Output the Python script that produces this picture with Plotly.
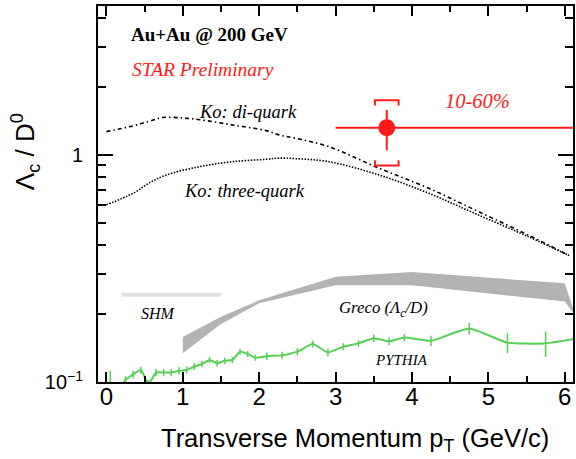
import plotly.graph_objects as go

# ---------------- data ----------------
# STAR measurement (10-60%)
star_x = [3.67]
star_y = [1.318]
star_xerr_plus = [2.44]
star_xerr_minus = [0.67]
star_stat = [0.26]
star_stat_minus = [0.27]
star_sys_hi = [1.74]
star_sys_lo = [0.898]

# Ko di-quark model
ko_di_x = [0.0, 0.345, 0.567, 0.737, 1.0, 1.22, 1.65, 2.09, 2.26, 2.48, 2.91, 3.57, 4.22, 4.87, 5.52, 6.09]
ko_di_y = [1.267, 1.342, 1.41, 1.462, 1.455, 1.43, 1.356, 1.28, 1.225, 1.184, 1.088, 0.874, 0.713, 0.563, 0.444, 0.356]

# Ko three-quark model
ko_tri_x = [0.0, 0.35, 0.567, 0.785, 1.22, 1.65, 2.09, 2.26, 2.48, 2.91, 3.57, 4.22, 4.87, 5.52, 6.04]
ko_tri_y = [0.603, 0.678, 0.755, 0.816, 0.888, 0.934, 0.957, 0.968, 0.963, 0.934, 0.816, 0.678, 0.544, 0.437, 0.363]

# Greco band
greco_x = [1.0, 1.5, 2.0, 3.0, 4.0, 6.0, 6.11]
greco_hi = [0.158, 0.194, 0.229, 0.291, 0.305, 0.272, 0.211]
greco_lo = [0.134, 0.180, 0.222, 0.267, 0.267, 0.226, 0.202]

# SHM
shm_x = [0.2, 1.5]
shm_y = [0.242, 0.242]

# PYTHIA
py_x = [0.05, 0.15, 0.25, 0.35, 0.45, 0.55, 0.65, 0.75, 0.85, 0.95, 1.05, 1.15, 1.25, 1.35, 1.45,
        1.55, 1.65, 1.75, 1.85, 1.95, 2.1, 2.3, 2.5, 2.7, 2.9, 3.1, 3.3, 3.5, 3.7, 3.9,
        4.25, 4.75, 5.25, 5.75, 6.25]
py_y = [0.077, 0.090, 0.102, 0.108, 0.113, 0.098, 0.110, 0.110, 0.110, 0.112, 0.113, 0.117, 0.120, 0.125, 0.121,
        0.124, 0.125, 0.136, 0.133, 0.128, 0.130, 0.131, 0.136, 0.147, 0.135, 0.143, 0.148, 0.156, 0.151, 0.157,
        0.152, 0.172, 0.149, 0.148, 0.157]
py_err = [0.035, 0.004, 0.004, 0.004, 0.004, 0.004, 0.004, 0.004, 0.004, 0.004, 0.004, 0.004, 0.004, 0.004, 0.004,
          0.004, 0.004, 0.004, 0.004, 0.004, 0.005, 0.005, 0.005, 0.005, 0.005, 0.005, 0.005, 0.006, 0.006, 0.006,
          0.008, 0.010, 0.015, 0.019, 0.020]

x_major = [0, 1, 2, 3, 4, 5, 6]
x_minor = [-0.5, 0.5, 1.5, 2.5, 3.5, 4.5, 5.5]
y_major = [0.1, 1]
y_major_text = ["10<sup>\u22121</sup>", "1"]
y_minor = [0.2, 0.3, 0.4, 0.5, 0.6, 0.7, 0.8, 0.9, 2, 3, 4]

# ---------------- figure ----------------
RED = "#ff1a1a"
GREEN = "#55d055"
fig = go.Figure()

# Greco band
fig.add_trace(go.Scatter(
    x=greco_x + greco_x[::-1], y=greco_hi + greco_lo[::-1],
    fill="toself", fillcolor="#b3b3b3", line=dict(width=0), mode="lines",
    hoverinfo="skip", showlegend=False))

# SHM
fig.add_trace(go.Scatter(x=shm_x, y=shm_y, mode="lines",
                         line=dict(color="#e0e0e0", width=4), showlegend=False))

# Ko curves
fig.add_trace(go.Scatter(x=ko_di_x, y=ko_di_y, mode="lines", line_shape="spline",
                         line=dict(color="black", width=1.6, dash="4px,3px,1.5px,3px"),
                         showlegend=False))
fig.add_trace(go.Scatter(x=ko_tri_x, y=ko_tri_y, mode="lines", line_shape="spline",
                         line=dict(color="black", width=1.6, dash="1.5px,1.5px"),
                         showlegend=False))

# PYTHIA
fig.add_trace(go.Scatter(x=py_x, y=py_y, mode="lines", line_shape="spline",
                         line=dict(color=GREEN, width=2, smoothing=0.5),
                         error_y=dict(type="data", array=py_err, color=GREEN, thickness=1.5, width=0),
                         showlegend=False))

# STAR systematic brackets (computed from sys values)
bx = 0.155
leg = 1.055
for x0, hi, lo in zip(star_x, star_sys_hi, star_sys_lo):
    fig.add_trace(go.Scatter(x=[x0 - bx, x0 - bx, x0 + bx, x0 + bx], y=[hi / leg, hi, hi, hi / leg],
                             mode="lines", line=dict(color=RED, width=2), showlegend=False))
    fig.add_trace(go.Scatter(x=[x0 - bx, x0 - bx, x0 + bx, x0 + bx], y=[lo * leg, lo, lo, lo * leg],
                             mode="lines", line=dict(color=RED, width=2), showlegend=False))

# STAR point
fig.add_trace(go.Scatter(
    x=star_x, y=star_y, mode="markers",
    marker=dict(color=RED, size=17),
    error_x=dict(type="data", array=star_xerr_plus, arrayminus=star_xerr_minus, color=RED, thickness=2, width=0),
    error_y=dict(type="data", array=star_stat, arrayminus=star_stat_minus, color=RED, thickness=2, width=0),
    showlegend=False))

axis_font = "Liberation Sans, Arial, sans-serif"
serif = "Liberation Serif, Times New Roman, serif"

fig.update_xaxes(
    range=[-0.11, 6.108], showline=True, linewidth=2, linecolor="black", mirror="allticks",
    ticks="inside", ticklen=10, tickwidth=1.5, tickcolor="black",
    tickmode="array", tickvals=x_major, ticktext=[str(v) for v in x_major],
    tickfont=dict(family=axis_font, size=24, color="black"),
    ticklabelstandoff=-8,
    minor=dict(tickmode="array", tickvals=x_minor, ticks="inside", ticklen=6, tickwidth=1.5, tickcolor="black"),
    showgrid=False, zeroline=False)
fig.update_yaxes(
    type="log", range=[-1, 0.656], showline=True, linewidth=2, linecolor="black", mirror="allticks",
    ticks="inside", ticklen=15, tickwidth=1.5, tickcolor="black",
    tickmode="array", tickvals=y_major, ticktext=y_major_text,
    tickfont=dict(family=axis_font, size=20, color="black"),
    ticklabelstandoff=9,
    minor=dict(tickmode="array", tickvals=y_minor, ticks="inside", ticklen=8, tickwidth=1.5, tickcolor="black"),
    showgrid=False, zeroline=False)

ann = []
def A(text, x, y, size, color="black", family=serif, **kw):
    ann.append(dict(text=text, x=x, y=y, xref="paper", yref="paper", showarrow=False,
                    font=dict(family=family, size=size, color=color), **kw))

A("<b>Au+Au @ 200 GeV</b>", 0.066, 0.923, 19, xanchor="left", yanchor="middle")
A("<i>STAR Preliminary</i>", 0.068, 0.83, 19.5, color=RED, xanchor="left", yanchor="middle")
A("<i>Ko: di-quark</i>", 0.315, 0.718, 18.5, xanchor="center", yanchor="middle")
A("<i>Ko: three-quark</i>", 0.309, 0.508, 18.5, xanchor="center", yanchor="middle")
A("<i>10-60%</i>", 0.799, 0.747, 20.5, color=RED, xanchor="center", yanchor="middle")
A("<i>SHM</i>", 0.128, 0.181, 16, xanchor="center", yanchor="middle")
A("<i>Greco (\u039b<sub>c</sub>/D)</i>", 0.601, 0.194, 16.8, xanchor="center", yanchor="middle")
A("<i>PYTHIA</i>", 0.639, 0.0585, 15, xanchor="center", yanchor="middle")
A("\u039b<sub>c</sub> / D<sup>0</sup>", -0.153, 0.612, 26, family=axis_font, textangle=-90,
  xanchor="center", yanchor="middle")
A("Transverse Momentum p<sub>T</sub> (GeV/c)", 0.54, -0.155, 25.5, family=axis_font,
  xanchor="center", yanchor="middle")

fig.update_layout(
    width=576, height=459, margin=dict(l=98, r=1, t=6, b=77),
    paper_bgcolor="white", plot_bgcolor="white", annotations=ann, showlegend=False)

fig.write_html("out.html", config={"displayModeBar": False},
               post_script="document.body.style.margin='0';document.body.style.overflow='hidden';")
